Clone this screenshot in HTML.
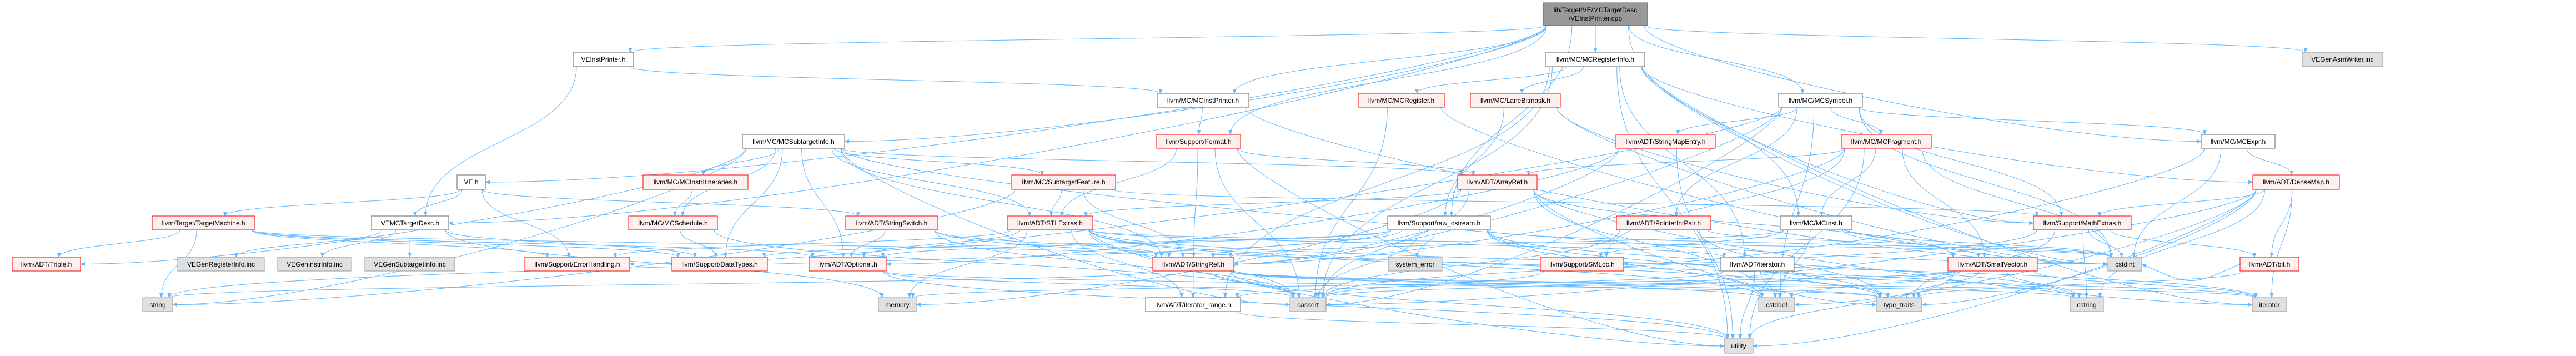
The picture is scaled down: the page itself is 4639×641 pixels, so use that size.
<!DOCTYPE html>
<html><head><meta charset="utf-8"><style>
html,body{margin:0;padding:0;background:#fff;width:4639px;height:641px;overflow:hidden}
svg text{font-family:"Liberation Sans",Arial,sans-serif;font-size:12px;fill:#000}
</style></head><body>
<svg id="g" width="4639" height="641" viewBox="0 0 4639 641" xmlns="http://www.w3.org/2000/svg">
<defs><marker id="a" viewBox="0 0 10 10" refX="9" refY="5" markerWidth="9" markerHeight="9" orient="auto" markerUnits="userSpaceOnUse"><path d="M0,1 L10,5 L0,9 z" fill="#63b8ff"/></marker></defs>
<g id="edges" fill="none" stroke="#63b8ff" stroke-width="1"></g>
<g id="nodes">
<rect x="2779" y="5" width="188" height="41" fill="#999" stroke="#666"/>
<text x="2873" y="22" text-anchor="middle">lib/Target/VE/MCTargetDesc</text>
<text x="2873" y="37" text-anchor="middle">/VEInstPrinter.cpp</text>

<rect x="1032" y="94" width="109" height="26" fill="#fff" stroke="#666"/><text x="1086.5" y="111" text-anchor="middle">VEInstPrinter.h</text>
<rect x="2784" y="94" width="178" height="26" fill="#fff" stroke="#666"/><text x="2873" y="111" text-anchor="middle">llvm/MC/MCRegisterInfo.h</text>
<rect x="4146" y="94" width="145" height="26" fill="#e0e0e0" stroke="#999"/><text x="4218.5" y="111" text-anchor="middle">VEGenAsmWriter.inc</text>

<rect x="2084" y="168" width="165" height="25" fill="#fff" stroke="#666"/><text x="2166.5" y="185" text-anchor="middle">llvm/MC/MCInstPrinter.h</text>
<rect x="2446" y="168" width="155" height="25" fill="#fff0f0" stroke="#f00"/><text x="2523.5" y="185" text-anchor="middle">llvm/MC/MCRegister.h</text>
<rect x="2648" y="168" width="162" height="25" fill="#fff0f0" stroke="#f00"/><text x="2729" y="185" text-anchor="middle">llvm/MC/LaneBitmask.h</text>
<rect x="3203" y="168" width="151" height="25" fill="#fff" stroke="#666"/><text x="3278.5" y="185" text-anchor="middle">llvm/MC/MCSymbol.h</text>

<rect x="1337" y="242" width="184" height="25" fill="#fff" stroke="#666"/><text x="1429" y="259" text-anchor="middle">llvm/MC/MCSubtargetInfo.h</text>
<rect x="2083" y="242" width="151" height="25" fill="#fff0f0" stroke="#f00"/><text x="2158.5" y="259" text-anchor="middle">llvm/Support/Format.h</text>
<rect x="2910" y="242" width="179" height="25" fill="#fff0f0" stroke="#f00"/><text x="2999.5" y="259" text-anchor="middle">llvm/ADT/StringMapEntry.h</text>
<rect x="3316" y="242" width="162" height="25" fill="#fff0f0" stroke="#f00"/><text x="3397" y="259" text-anchor="middle">llvm/MC/MCFragment.h</text>
<rect x="3964" y="242" width="133" height="25" fill="#fff" stroke="#666"/><text x="4030.5" y="259" text-anchor="middle">llvm/MC/MCExpr.h</text>

<rect x="823" y="315" width="51" height="26" fill="#fff" stroke="#666"/><text x="848.5" y="332" text-anchor="middle">VE.h</text>
<rect x="1158" y="315" width="189" height="26" fill="#fff0f0" stroke="#f00"/><text x="1252.5" y="332" text-anchor="middle">llvm/MC/MCInstrItineraries.h</text>
<rect x="1822" y="315" width="187" height="26" fill="#fff0f0" stroke="#f00"/><text x="1915.5" y="332" text-anchor="middle">llvm/MC/SubtargetFeature.h</text>
<rect x="2625" y="315" width="143" height="26" fill="#fff0f0" stroke="#f00"/><text x="2696.5" y="332" text-anchor="middle">llvm/ADT/ArrayRef.h</text>
<rect x="4057" y="315" width="156" height="26" fill="#fff0f0" stroke="#f00"/><text x="4135" y="332" text-anchor="middle">llvm/ADT/DenseMap.h</text>

<rect x="274" y="389" width="185" height="25" fill="#fff0f0" stroke="#f00"/><text x="366.5" y="406" text-anchor="middle">llvm/Target/TargetMachine.h</text>
<rect x="669" y="389" width="139" height="25" fill="#fff" stroke="#666"/><text x="738.5" y="406" text-anchor="middle">VEMCTargetDesc.h</text>
<rect x="1132" y="389" width="160" height="25" fill="#fff0f0" stroke="#f00"/><text x="1212" y="406" text-anchor="middle">llvm/MC/MCSchedule.h</text>
<rect x="1523" y="389" width="166" height="25" fill="#fff0f0" stroke="#f00"/><text x="1606" y="406" text-anchor="middle">llvm/ADT/StringSwitch.h</text>
<rect x="1814" y="389" width="154" height="25" fill="#fff0f0" stroke="#f00"/><text x="1891" y="406" text-anchor="middle">llvm/ADT/STLExtras.h</text>
<rect x="2499" y="389" width="185" height="25" fill="#fff" stroke="#666"/><text x="2591.5" y="406" text-anchor="middle">llvm/Support/raw_ostream.h</text>
<rect x="2911" y="389" width="170" height="25" fill="#fff0f0" stroke="#f00"/><text x="2996" y="406" text-anchor="middle">llvm/ADT/PointerIntPair.h</text>
<rect x="3206" y="389" width="129" height="25" fill="#fff" stroke="#666"/><text x="3270.5" y="406" text-anchor="middle">llvm/MC/MCInst.h</text>
<rect x="3662" y="389" width="176" height="25" fill="#fff0f0" stroke="#f00"/><text x="3750" y="406" text-anchor="middle">llvm/Support/MathExtras.h</text>

<rect x="22" y="463" width="123" height="25" fill="#fff0f0" stroke="#f00"/><text x="83.5" y="480" text-anchor="middle">llvm/ADT/Triple.h</text>
<rect x="320" y="463" width="156" height="25" fill="#e0e0e0" stroke="#999"/><text x="398" y="480" text-anchor="middle">VEGenRegisterInfo.inc</text>
<rect x="500" y="463" width="133" height="25" fill="#e0e0e0" stroke="#999"/><text x="566.5" y="480" text-anchor="middle">VEGenInstrInfo.inc</text>
<rect x="657" y="463" width="162" height="25" fill="#e0e0e0" stroke="#999"/><text x="738" y="480" text-anchor="middle">VEGenSubtargetInfo.inc</text>
<rect x="945" y="463" width="189" height="25" fill="#fff0f0" stroke="#f00"/><text x="1039.5" y="480" text-anchor="middle">llvm/Support/ErrorHandling.h</text>
<rect x="1210" y="463" width="172" height="25" fill="#fff0f0" stroke="#f00"/><text x="1296" y="480" text-anchor="middle">llvm/Support/DataTypes.h</text>
<rect x="1457" y="463" width="139" height="25" fill="#fff0f0" stroke="#f00"/><text x="1526.5" y="480" text-anchor="middle">llvm/ADT/Optional.h</text>
<rect x="2076" y="463" width="146" height="25" fill="#fff0f0" stroke="#f00"/><text x="2149" y="480" text-anchor="middle">llvm/ADT/StringRef.h</text>
<rect x="2500" y="463" width="97" height="25" fill="#e0e0e0" stroke="#999"/><text x="2548.5" y="480" text-anchor="middle">system_error</text>
<rect x="2774" y="463" width="150" height="25" fill="#fff0f0" stroke="#f00"/><text x="2849" y="480" text-anchor="middle">llvm/Support/SMLoc.h</text>
<rect x="3099" y="463" width="132" height="25" fill="#fff" stroke="#666"/><text x="3165" y="480" text-anchor="middle">llvm/ADT/iterator.h</text>
<rect x="3508" y="463" width="161" height="25" fill="#fff0f0" stroke="#f00"/><text x="3588.5" y="480" text-anchor="middle">llvm/ADT/SmallVector.h</text>
<rect x="3796" y="463" width="61" height="25" fill="#e0e0e0" stroke="#999"/><text x="3826.5" y="480" text-anchor="middle">cstdint</text>
<rect x="4034" y="463" width="106" height="25" fill="#fff0f0" stroke="#f00"/><text x="4087" y="480" text-anchor="middle">llvm/ADT/bit.h</text>

<rect x="257" y="536" width="54" height="25" fill="#e0e0e0" stroke="#999"/><text x="284" y="553" text-anchor="middle">string</text>
<rect x="1582" y="536" width="68" height="25" fill="#e0e0e0" stroke="#999"/><text x="1616" y="553" text-anchor="middle">memory</text>
<rect x="2063" y="536" width="171" height="25" fill="#fff" stroke="#666"/><text x="2148.5" y="553" text-anchor="middle">llvm/ADT/iterator_range.h</text>
<rect x="2323" y="536" width="65" height="25" fill="#e0e0e0" stroke="#999"/><text x="2355.5" y="553" text-anchor="middle">cassert</text>
<rect x="3167" y="536" width="65" height="25" fill="#e0e0e0" stroke="#999"/><text x="3199.5" y="553" text-anchor="middle">cstddef</text>
<rect x="3379" y="536" width="82" height="25" fill="#e0e0e0" stroke="#999"/><text x="3420" y="553" text-anchor="middle">type_traits</text>
<rect x="3728" y="536" width="60" height="25" fill="#e0e0e0" stroke="#999"/><text x="3758" y="553" text-anchor="middle">cstring</text>
<rect x="4056" y="536" width="62" height="25" fill="#e0e0e0" stroke="#999"/><text x="4087" y="553" text-anchor="middle">iterator</text>

<rect x="3105" y="610" width="52" height="26" fill="#e0e0e0" stroke="#999"/><text x="3131" y="627" text-anchor="middle">utility</text>
</g>
</svg>
<script>
(function(){
var N={
root:[2779,2967,5,46],VIP:[1032,1141,94,120],MRI:[2784,2962,94,120],ASM:[4146,4291,94,120],
MIP:[2084,2249,168,193],MR:[2446,2601,168,193],LB:[2648,2810,168,193],SYM:[3203,3354,168,193],
MSI:[1337,1521,242,267],FMT:[2083,2234,242,267],SME:[2910,3089,242,267],FRG:[3316,3478,242,267],EXPR:[3964,4097,242,267],
VE:[823,874,315,341],ITN:[1158,1347,315,341],SF:[1822,2009,315,341],AR:[2625,2768,315,341],DM:[4057,4213,315,341],
TM:[274,459,389,414],VMC:[669,808,389,414],SCH:[1132,1292,389,414],SS:[1523,1689,389,414],STL:[1814,1968,389,414],RO:[2499,2684,389,414],PIP:[2911,3081,389,414],INST:[3206,3335,389,414],ME:[3662,3838,389,414],
TR:[22,145,463,488],GRI:[320,476,463,488],GII:[500,633,463,488],GSI:[657,819,463,488],EH:[945,1134,463,488],DT:[1210,1382,463,488],OPT:[1457,1596,463,488],SR:[2076,2222,463,488],SE:[2500,2597,463,488],SML:[2774,2924,463,488],IT:[3099,3231,463,488],SV:[3508,3669,463,488],CI:[3796,3857,463,488],BIT:[4034,4140,463,488],
STR:[257,311,536,561],MEM:[1582,1650,536,561],IR:[2063,2234,536,561],CA:[2323,2388,536,561],CD:[3167,3232,536,561],TT:[3379,3461,536,561],CS:[3728,3788,536,561],ITR:[4056,4118,536,561],
UT:[3105,3157,610,636]};
var E={
root:['VIP','MRI','ASM','MIP','SYM','EXPR','INST','MSI','VE','VMC','RO','FMT'],
VIP:['VMC','MIP'],VE:['VMC','TM','EH','SS'],
VMC:['GRI','GII','GSI','DT','MEM'],
TM:['TR','STR','SR','OPT','DT','EH'],
MRI:['MR','LB','DM','IR','ME','CA','CI','ITR','UT','IT'],
MIP:['FMT','CI'],MR:['CI','CA'],LB:['RO','ME','CI'],
SYM:['FRG','EXPR','SME','PIP','SR','EH','ME','CA','CD','CI'],
MSI:['ITN','SCH','SF','AR','STL','SR','TR','DT','STR','OPT','CA','CI'],
FMT:['AR','STL','SR','CA','UT'],SME:['SR','OPT','UT'],
FRG:['AR','SV','SR','INST','SML','CI','UT'],EXPR:['DM','SML','CI'],
ITN:['SCH'],SF:['STL','SR','ME','STR'],
AR:['SV','STL','CA','CD','ITR','MEM','TT'],
DM:['ME','TT','CA','CD','CS','ITR','UT','BIT'],
SCH:['DT','CA'],SS:['SR','CA','CS','OPT'],
STL:['IT','IR','OPT','EH','CA','CD','CI','ITR','MEM','TT','UT'],
RO:['SR','DT','SE','CA','CD','CI','CS','STR','TT','OPT'],
PIP:['CA','CI','TT'],INST:['SV','SML','CD','CI','SR'],
ME:['BIT','CA','CI','CS','TT'],
SR:['IR','CA','CD','CS','ITR','STR','TT','UT'],
OPT:['TT','CA','UT'],IT:['IR','CD','ITR','TT','UT'],IR:['UT'],SML:['CA'],
SV:['TT','CA','CD','CS','ITR','MEM','UT'],BIT:['CI','TT']};
var g=document.getElementById('edges'),s='';
function cl(v,a,b){return Math.max(a,Math.min(b,v));}
for(var k in E){var S=N[k];E[k].forEach(function(t){var T=N[t];
var scx=(S[0]+S[1])/2,tcx=(T[0]+T[1])/2,d;
if(T[2]>S[3]){var sx=cl(scx+(tcx-scx)*0.15,S[0]+6,S[1]-6),sy=S[3];
var tx=cl(tcx+(scx-tcx)*0.08,T[0]+6,T[1]-6),ty=T[2];
var dx=Math.abs(tx-sx);
if(dx>600&&T[2]-S[3]>150){var ey=(T[2]+T[3])/2;var ex=tx<sx?T[1]:T[0];
d='M'+sx+','+sy+' C'+sx+','+(sy+60)+' '+(ex+(sx-ex)*0.3)+','+ey+' '+ex+','+ey;}
else{var h=ty-sy;d='M'+sx+','+sy+' C'+sx+','+(sy+h*0.5)+' '+tx+','+(ty-h*0.5)+' '+tx+','+ty;}}
else{var y1=(S[2]+S[3])/2,y2=(T[2]+T[3])/2;var sx2=tcx>scx?S[1]:S[0],tx2=tcx>scx?T[0]:T[1];
d='M'+sx2+','+y1+' C'+((sx2+tx2)/2)+','+(y1+40)+' '+((sx2+tx2)/2)+','+(y2+40)+' '+tx2+','+y2;}
s+='<path d="'+d+'" marker-end="url(#a)"/>';});}
g.innerHTML=s;})();
</script>
</body></html>
